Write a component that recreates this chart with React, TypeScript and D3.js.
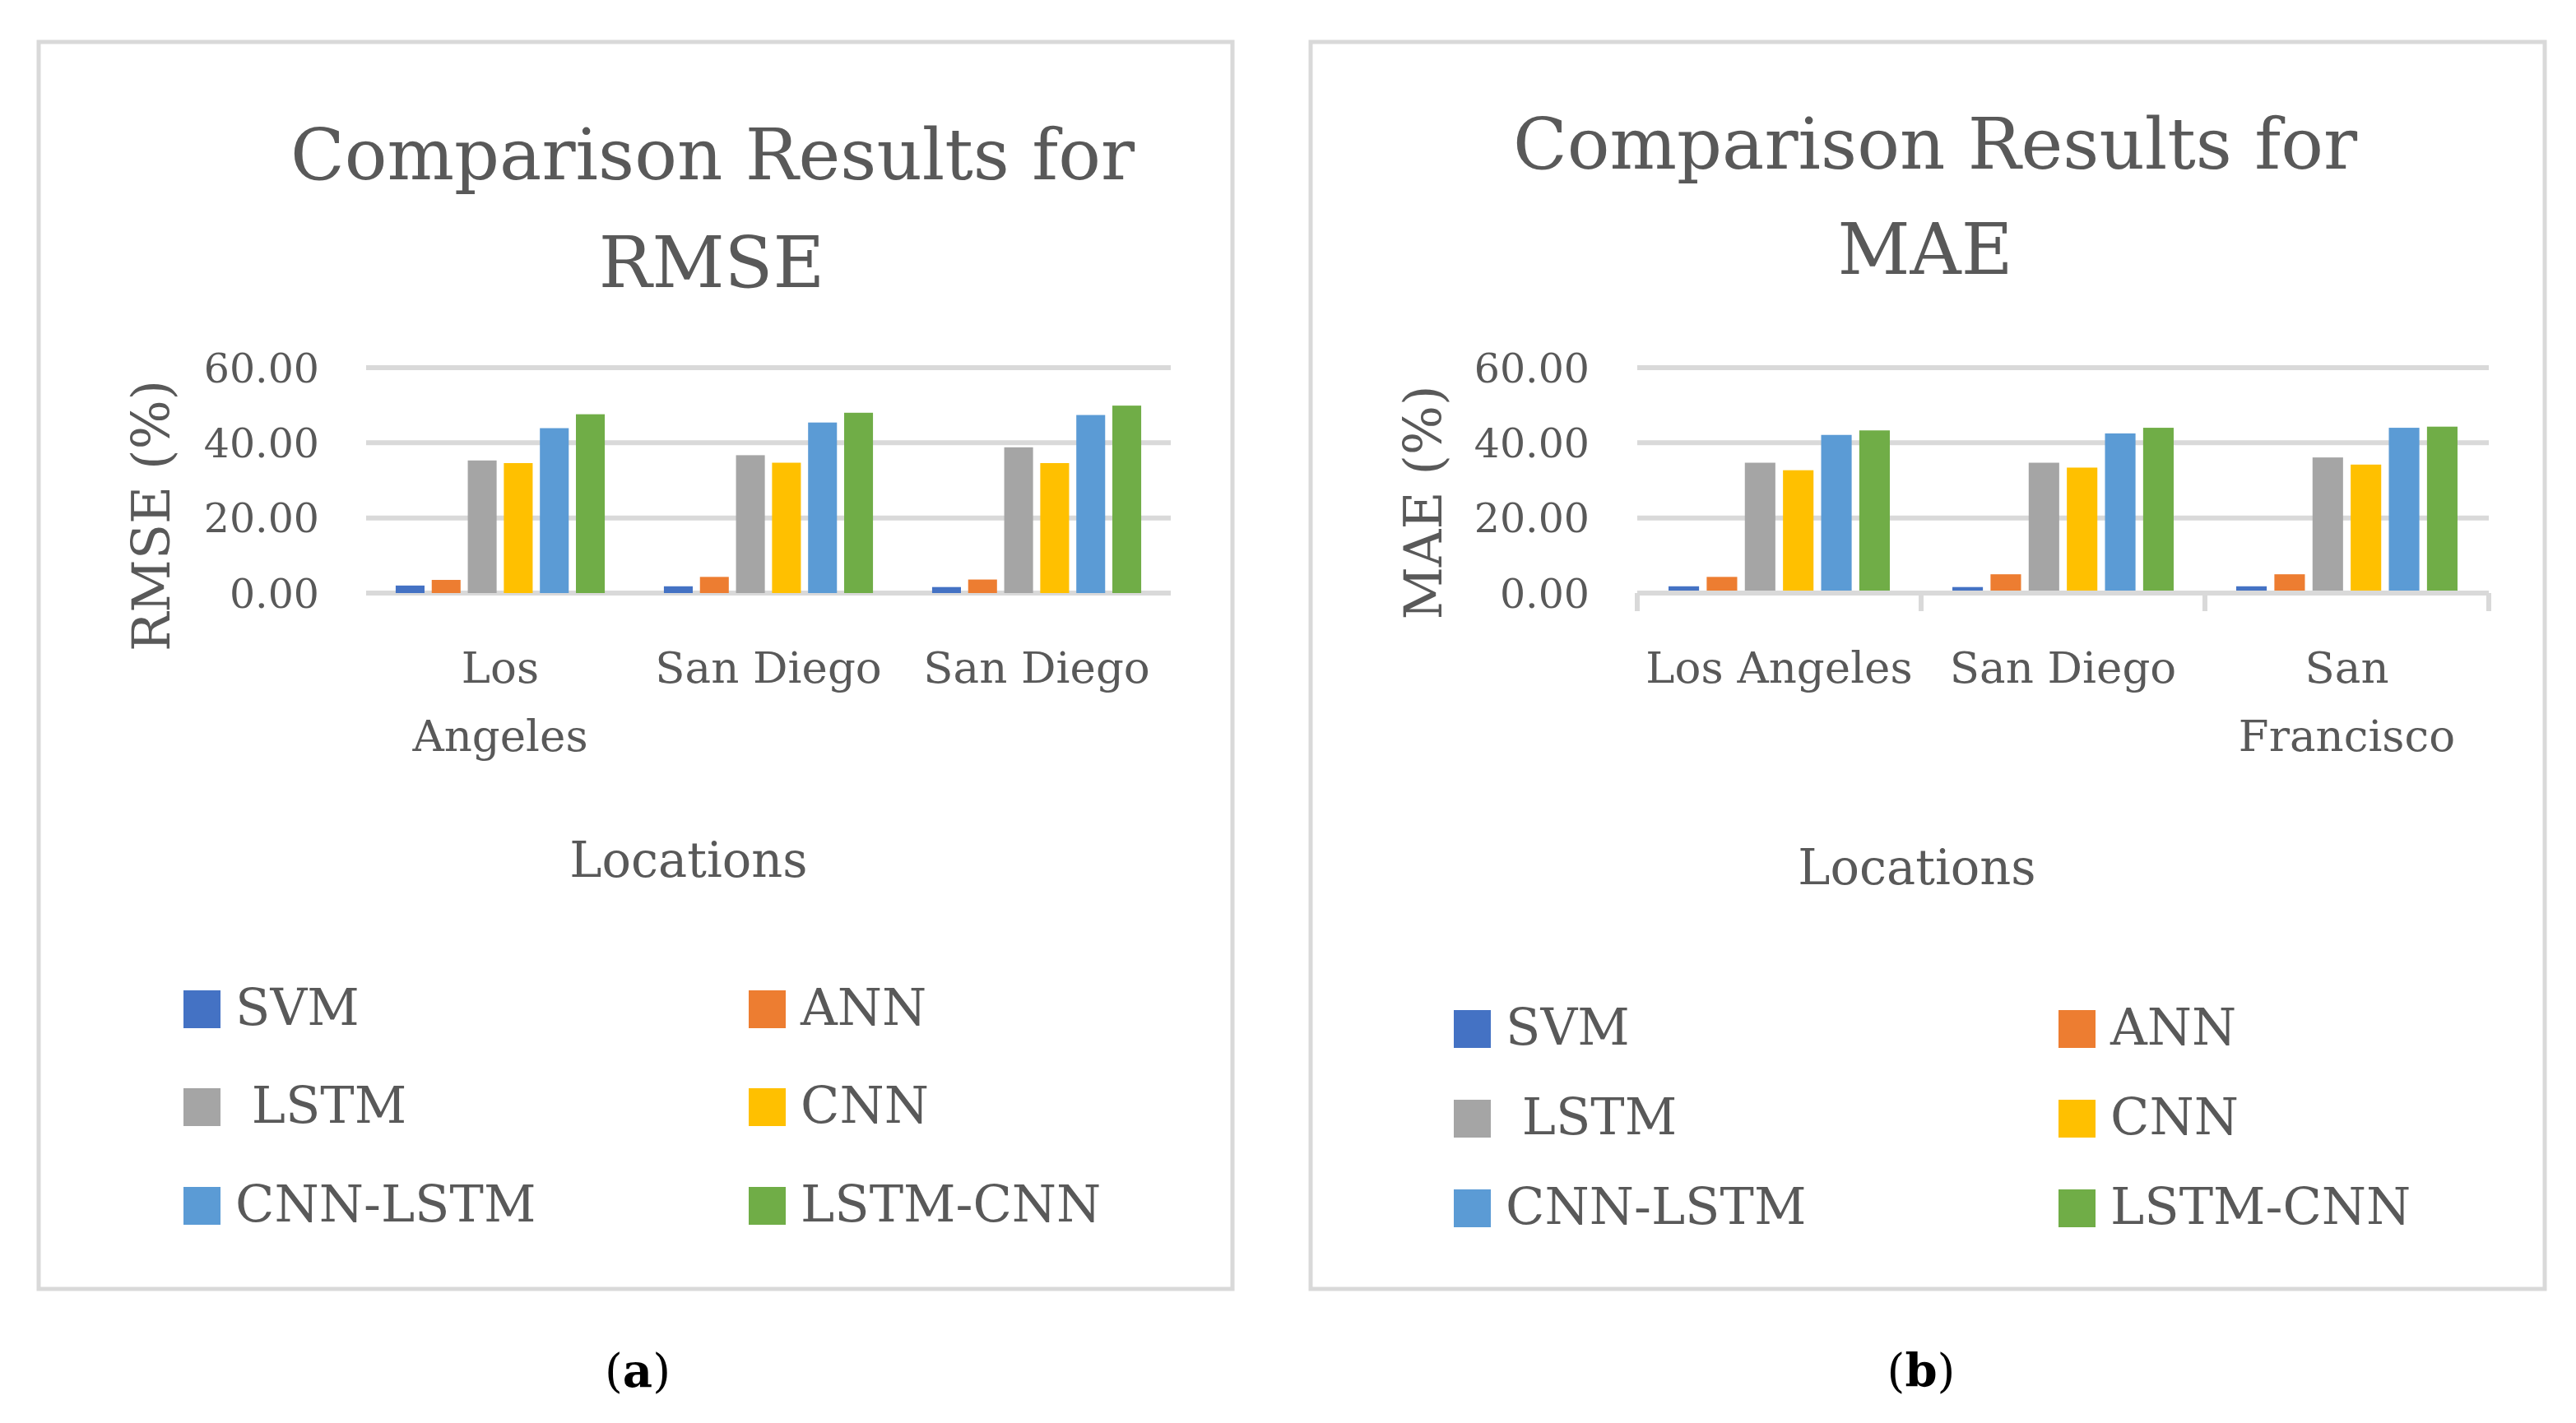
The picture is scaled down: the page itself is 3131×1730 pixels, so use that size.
import React from 'react';
import * as d3 from 'd3';

// models / series (" LSTM" keeps the leading space seen in the legend)
const models = ['SVM', 'ANN', ' LSTM', 'CNN', 'CNN-LSTM', 'LSTM-CNN'];
const colors = ['#4472C4', '#ED7D31', '#A5A5A5', '#FFC000', '#5B9BD5', '#70AD47'];

// (a) RMSE
const rmseLabels = [['Los', 'Angeles'], ['San Diego'], ['San Diego']];
const rmseSVM = [2.0, 1.8, 1.6];
const rmseANN = [3.5, 4.3, 3.6];
const rmseLSTM = [35.3, 36.7, 38.8];
const rmseCNN = [34.6, 34.7, 34.6];
const rmseCNNLSTM = [43.9, 45.4, 47.4];
const rmseLSTMCNN = [47.6, 48.0, 49.9];

// (b) MAE
const maeLabels = [['Los Angeles'], ['San Diego'], ['San', 'Francisco']];
const maeSVM = [1.8, 1.6, 1.8];
const maeANN = [4.3, 5.0, 5.0];
const maeLSTM = [34.7, 34.7, 36.1];
const maeCNN = [32.7, 33.4, 34.2];
const maeCNNLSTM = [42.1, 42.5, 44.0];
const maeLSTMCNN = [43.3, 44.0, 44.3];

const yTicks = [0, 20, 40, 60];

const FONT = '"DejaVu Serif", serif';
const TEXT = '#595959';
const GRID = '#d9d9d9';

interface PanelProps {
  box: [number, number, number, number];
  titleLines: { text: string; x: number; y: number }[];
  yTitle: string;
  yTitlePos: [number, number];
  tickRight: number;
  plotX: [number, number];
  labels: string[][];
  series: number[][];
  labelY: number;
  xTitlePos: [number, number];
  showTicks: boolean;
  legend: { cols: [number, number]; rows: [number, number, number] };
  caption: { letter: string; x: number };
}

const Panel: React.FC<PanelProps> = (p) => {
  const y = d3.scaleLinear().domain([0, 60]).range([721, 447]);
  const idx = p.labels.map((_, i) => i);
  const x0 = d3.scaleBand<number>().domain(idx).range(p.plotX).paddingInner(0).paddingOuter(0);
  const x1 = d3.scaleBand<number>().domain(models.map((_, i) => i))
    .range([0, x0.bandwidth()]).paddingInner(0.2).paddingOuter(0.82);

  const [bx, by, bw, bh] = p.box;

  return (
    <g>
      <rect x={bx} y={by} width={bw} height={bh} fill="#fff" stroke={GRID} strokeWidth={5} />

      {p.titleLines.map((t, i) => (
        <text key={i} x={t.x} y={t.y} textAnchor="middle" fontFamily={FONT} fontSize={86} fill={TEXT}>{t.text}</text>
      ))}

      {/* gridlines */}
      {yTicks.map(v => (
        <line key={v} x1={p.plotX[0]} x2={p.plotX[1]} y1={y(v)} y2={y(v)} stroke={GRID} strokeWidth={6} />
      ))}
      {yTicks.map(v => (
        <text key={'t' + v} x={p.tickRight} y={y(v)} dy="0.36em" textAnchor="end" fontFamily={FONT} fontSize={49} fill={TEXT}>
          {d3.format('.2f')(v)}
        </text>
      ))}

      {/* bars */}
      {p.series.map((vals, s) =>
        vals.map((v, c) => (
          <rect key={s + '-' + c} x={(x0(c) ?? 0) + (x1(s) ?? 0)} y={y(v)} width={x1.bandwidth()}
            height={y(0) - y(v)} fill={colors[s]} />
        ))
      )}

      {p.showTicks && (
        <g>
          <line x1={p.plotX[0]} x2={p.plotX[1]} y1={y(0)} y2={y(0)} stroke={GRID} strokeWidth={6} />
          {[...idx, idx.length].map(i => {
            const xx = i < idx.length ? (x0(i) ?? 0) : p.plotX[1];
            return <line key={'k' + i} x1={xx} x2={xx} y1={y(0)} y2={y(0) + 22} stroke={GRID} strokeWidth={6} />;
          })}
        </g>
      )}

      {/* category labels */}
      {p.labels.map((lines, c) => (
        <text key={'c' + c} textAnchor="middle" fontFamily={FONT} fontSize={53} fill={TEXT}>
          {lines.map((ln, k) => (
            <tspan key={k} x={(x0(c) ?? 0) + x0.bandwidth() / 2} y={p.labelY + k * 83}>{ln}</tspan>
          ))}
        </text>
      ))}

      <text x={p.xTitlePos[0]} y={p.xTitlePos[1]} textAnchor="middle" fontFamily={FONT} fontSize={59} fill={TEXT}>Locations</text>
      <text transform={`translate(${p.yTitlePos[0]},${p.yTitlePos[1]}) rotate(-90)`} textAnchor="middle"
        fontFamily={FONT} fontSize={63} fill={TEXT}>{p.yTitle}</text>

      {/* legend */}
      {models.map((m, i) => {
        const lx = p.legend.cols[i % 2];
        const ly = p.legend.rows[Math.floor(i / 2)];
        return (
          <g key={'l' + i}>
            <rect x={lx} y={ly} width={45} height={46} fill={colors[i]} />
            <text x={lx + 63} y={ly + 42} fontFamily={FONT} fontSize={62} fill={TEXT} style={{ whiteSpace: 'pre' }}>{m}</text>
          </g>
        );
      })}

      <text x={p.caption.x} y={1686} textAnchor="middle" fontFamily={FONT} fontSize={56} fill="#000">
        (<tspan fontWeight="bold">{p.caption.letter}</tspan>)
      </text>
    </g>
  );
};

export default function App() {
  return (
    <svg width={3131} height={1730} style={{ position: 'absolute', left: 0, top: 0, background: '#fff' }}>
      <rect width={3131} height={1730} fill="#fff" />
      <Panel
        box={[47, 51, 1451, 1516]}
        titleLines={[{ text: 'Comparison Results for', x: 866, y: 218 }, { text: 'RMSE', x: 865, y: 349 }]}
        yTitle="RMSE (%)"
        yTitlePos={[206, 627]}
        tickRight={388}
        plotX={[445, 1423]}
        labels={rmseLabels}
        series={[rmseSVM, rmseANN, rmseLSTM, rmseCNN, rmseCNNLSTM, rmseLSTMCNN]}
        labelY={830}
        xTitlePos={[837, 1066]}
        showTicks={false}
        legend={{ cols: [223, 910], rows: [1204, 1323, 1443] }}
        caption={{ letter: 'a', x: 775 }}
      />
      <Panel
        box={[1593, 51, 1500, 1516]}
        titleLines={[{ text: 'Comparison Results for', x: 2352, y: 205 }, { text: 'MAE', x: 2340, y: 333 }]}
        yTitle="MAE (%)"
        yTitlePos={[1752, 611]}
        tickRight={1932}
        plotX={[1990, 3025]}
        labels={maeLabels}
        series={[maeSVM, maeANN, maeLSTM, maeCNN, maeCNNLSTM, maeLSTMCNN]}
        labelY={830}
        xTitlePos={[2330, 1075]}
        showTicks={true}
        legend={{ cols: [1767, 2502], rows: [1228, 1337, 1446] }}
        caption={{ letter: 'b', x: 2335 }}
      />
    </svg>
  );
}
